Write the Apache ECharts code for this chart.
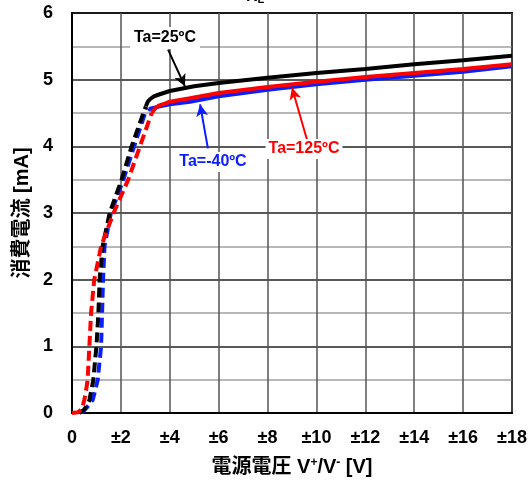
<!DOCTYPE html>
<html>
<head>
<meta charset="utf-8">
<script src="https://cdn.jsdelivr.net/npm/echarts@6/dist/echarts.min.js"></script>
<style>html,body{margin:0;padding:0;background:#fff;}#c{width:531px;height:482px;}</style>
</head>
<body>
<div id="c"></div>
<script>
// ---- data ----
const xTickLabels = ['0','±2','±4','±6','±8','±10','±12','±14','±16','±18'];
const yTickLabels = ['0','1','2','3','4','5','6'];
const seriesNames = ['Ta=-40ºC','Ta=25ºC','Ta=125ºC'];

const blueRise  = [[0.4,0],[0.6,0.08],[0.85,0.2],[1.05,0.49],[1.19,1.0],[1.23,1.5],[1.27,2.0],[1.33,2.5],[1.59,3.0],[2.1,3.5],[2.54,4.0],[2.99,4.5],[3.15,4.56]];
const blueFlat  = [[3.15,4.56],[3.6,4.6],[4,4.63],[4.83,4.67],[6,4.75],[8,4.85],[10,4.93],[12,5.0],[14,5.06],[16,5.12],[18,5.2]];
const blackRise = [[0.3,0],[0.5,0.05],[0.71,0.19],[0.87,0.49],[1.0,1.0],[1.08,1.5],[1.13,2.0],[1.25,2.5],[1.54,3.0],[2.03,3.5],[2.44,4.0],[2.92,4.5],[3.02,4.6]];
const blackFlat = [[3.02,4.6],[3.1,4.67],[3.2,4.71],[3.35,4.75],[3.5,4.77],[4,4.83],[5,4.9],[6,4.95],[8,5.03],[10,5.1],[12,5.16],[14,5.23],[16,5.29],[18,5.36]];
const redRise   = [[0,0],[0.25,0.01],[0.4,0.06],[0.5,0.19],[0.58,0.35],[0.64,0.5],[0.71,1.0],[0.78,1.5],[0.91,2.0],[1.19,2.5],[1.7,3.0],[2.3,3.5],[2.78,4.0],[3.26,4.5]];
const redFlat   = [[3.26,4.5],[3.4,4.57],[3.55,4.61],[3.8,4.64],[4.0,4.67],[4.83,4.72],[6,4.8],[8,4.89],[10,4.97],[12,5.04],[14,5.1],[16,5.16],[18,5.23]];

// annotation arrows [from, to] in data coordinates
const blueArrow  = [[5.56,3.97],[5.24,4.63]];
const blackArrow = [[3.93,5.45],[4.62,4.9]];
const redArrow   = [[9.62,4.09],[9.0,4.88]];

// ---- chart ----
const FONT = "'Liberation Sans', Arial, 'Noto Sans CJK JP', sans-serif";
const BLUE = '#0a1eff', BLACK = '#000000', RED = '#ff0000';
const chart = echarts.init(document.getElementById('c'), null, {renderer:'canvas'});

function lineSeries(name, data, color, dashed, arrow) {
  const s = {
    name, type:'line', data, showSymbol:false, symbol:'none', smooth:false,
    lineStyle:{color, width:4, type: dashed ? [10,5] : 'solid', cap:'butt'},
    z: 3
  };
  if (arrow) {
    s.markLine = {
      silent:true, symbol:['none','arrow'], symbolSize:[9,12],
      lineStyle:{color, width:2, type:'solid'}, label:{show:false},
      data:[[{coord:arrow[0]},{coord:arrow[1]}]]
    };
  }
  return s;
}

const option = {
  animation:false,
  backgroundColor:'#fff',
  grid:{left:72, right:19, top:13, bottom:69, show:true, borderColor:'#000', borderWidth:2, backgroundColor:'transparent'},
  xAxis:{
    type:'value', min:0, max:18, interval:2,
    axisLine:{show:true, lineStyle:{color:'#000', width:2}},
    axisTick:{show:false},
    axisLabel:{margin:16, fontSize:18, fontWeight:'bold', color:'#000', fontFamily:FONT,
      formatter:(v)=>xTickLabels[Math.round(v/2)]},
    splitLine:{show:true, lineStyle:{color:'#555', width:1.5}},
    name:'電源電圧 V{sup|+}/V{sup|-} [V]', nameLocation:'middle', nameGap:44,
    nameTextStyle:{fontSize:20, fontWeight:'bold', color:'#000', fontFamily:FONT,
      rich:{sup:{fontSize:12, fontWeight:'bold', verticalAlign:'top', color:'#000', fontFamily:FONT, padding:[0,0,8,0]}}}
  },
  yAxis:{
    type:'value', min:0, max:6, interval:1,
    axisLine:{show:true, lineStyle:{color:'#000', width:2}},
    axisTick:{show:false},
    minorTick:{show:false, splitNumber:2},
    minorSplitLine:{show:true, lineStyle:{color:'#a0a0a0', width:1.5}},
    axisLabel:{margin:19, fontSize:18, fontWeight:'bold', color:'#000', fontFamily:FONT,
      formatter:(v)=>yTickLabels[Math.round(v)]},
    splitLine:{show:true, lineStyle:{color:'#222', width:1.5}},
    name:'消費電流 [mA]', nameLocation:'middle', nameGap:40,
    nameTextStyle:{fontSize:20, fontWeight:'bold', color:'#000', fontFamily:FONT}
  },
  series:[
    lineSeries(seriesNames[0], blueRise, BLUE, true),
    lineSeries(seriesNames[0], blueFlat, BLUE, false, blueArrow),
    lineSeries(seriesNames[1], blackRise, BLACK, true),
    lineSeries(seriesNames[1], blackFlat, BLACK, false, blackArrow),
    lineSeries(seriesNames[2], redRise, RED, true),
    lineSeries(seriesNames[2], redFlat, RED, false, redArrow)
  ],
  graphic:[
    {type:'text', left:'center', z:100, x:0, y:0,
      style:{text:'R{s|L}=∞', x:290, y:5, align:'center', verticalAlign:'bottom',
        font:'bold 16px '+FONT, fill:'#000',
        rich:{s:{fontSize:11, fontWeight:'bold', verticalAlign:'bottom', fill:'#000'}}}},
    {type:'text', z:100, style:{text:seriesNames[1], x:165, y:38, align:'center', verticalAlign:'middle',
      font:'bold 16px '+FONT, fill:BLACK, backgroundColor:'#fff', padding:[3,4,3,4]}},
    {type:'text', z:100, style:{text:seriesNames[0], x:213, y:162, align:'center', verticalAlign:'middle',
      font:'bold 16px '+FONT, fill:BLUE, backgroundColor:'#fff', padding:[2,3,2,3]}},
    {type:'text', z:100, style:{text:seriesNames[2], x:304, y:149, align:'center', verticalAlign:'middle',
      font:'bold 16px '+FONT, fill:RED, backgroundColor:'#fff', padding:[2,3,2,3]}}
  ]
};
chart.setOption(option);
</script>
</body>
</html>
